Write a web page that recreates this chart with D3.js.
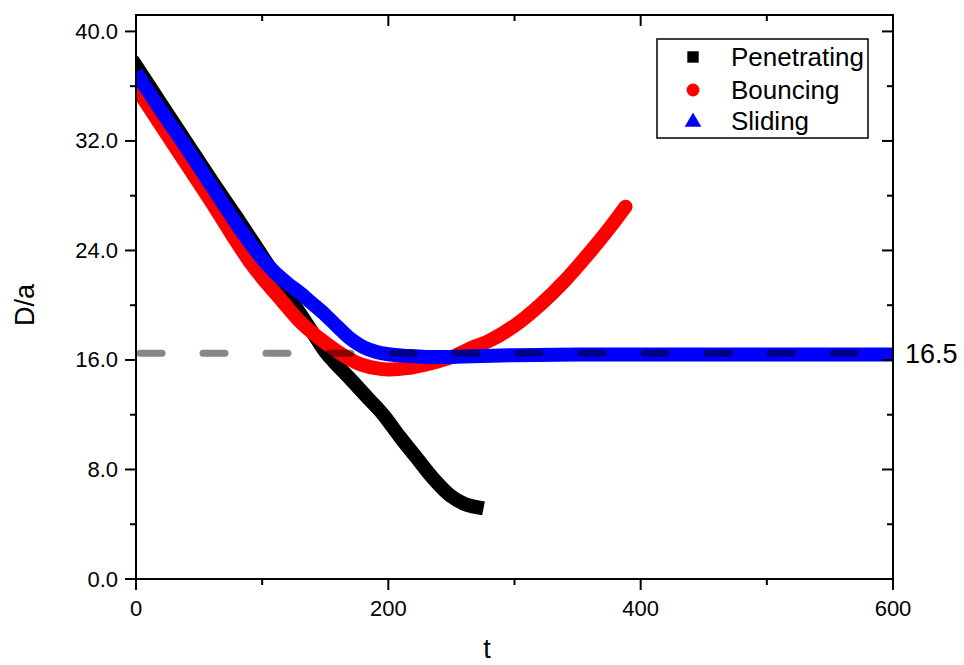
<!DOCTYPE html>
<html>
<head>
<meta charset="utf-8">
<script src="https://cdn.jsdelivr.net/npm/d3@7/dist/d3.min.js"></script>
<style>
  body { margin: 0; background: #fff; }
  text { font-family: Arial, "Liberation Sans", sans-serif; fill: #000; }
</style>
</head>
<body>
<svg id="svg" width="964" height="665"></svg>
<script>
// series data
var penetratingT = [0, 20, 40, 60, 80, 100, 120, 130, 140, 150, 157, 170, 183, 196, 209, 222, 236, 249, 260, 270];
var penetratingD = [37.5, 34.7, 31.9, 29.1, 26.4, 23.6, 20.8, 19.4, 18.0, 16.6, 15.85, 14.6, 13.3, 12.0, 10.4, 8.9, 7.3, 6.1, 5.5, 5.25];

var bouncingT = [0, 20, 40, 60, 75, 90, 100, 114, 130, 145, 160, 175, 190, 200, 215, 233, 250, 265, 280, 300, 320, 340, 360, 375, 388];
var bouncingD = [35.9, 33.1, 30.3, 27.5, 25.3, 23.2, 22.0, 20.5, 18.8, 17.6, 16.6, 15.8, 15.4, 15.3, 15.4, 15.75, 16.2, 16.85, 17.4, 18.5, 20.0, 21.8, 23.9, 25.6, 27.2];

var slidingT = [0, 20, 40, 60, 80, 90, 100, 110, 120, 130, 140, 150, 160, 170, 180, 190, 200, 215, 230, 260, 300, 350, 400, 450, 500, 550, 600];
var slidingD = [37.0, 34.2, 31.5, 28.7, 25.9, 24.6, 23.4, 22.4, 21.6, 20.9, 20.1, 19.3, 18.4, 17.55, 16.95, 16.6, 16.42, 16.3, 16.22, 16.25, 16.35, 16.4, 16.4, 16.4, 16.4, 16.4, 16.4];

var seriesNames = ["Penetrating", "Bouncing", "Sliding"];
var seriesColors = ["#000000", "#ff0000", "#0000ff"];

var refLevel = 16.5;
var xMajor = [0, 200, 400, 600];
var xMinor = [100, 300, 500];
var yMajor = [0, 8, 16, 24, 32, 40];
var yMinor = [4, 12, 20, 28, 36];

var svg = d3.select("svg"),
    width = +svg.attr("width"),
    height = +svg.attr("height");

var pLeft = 136, pRight = 893, pTop = 15, pBottom = 579;

var x = d3.scaleLinear().domain([0, 600]).range([pLeft, pRight]);
var y = d3.scaleLinear().domain([0, 41.2]).range([pBottom, pTop]);

svg.append("rect").attr("width", width).attr("height", height).attr("fill", "#fff");

svg.append("defs").append("clipPath").attr("id", "plotclip")
    .append("rect")
    .attr("x", pLeft).attr("y", pTop)
    .attr("width", pRight - pLeft).attr("height", pBottom - pTop);

var plot = svg.append("g").attr("clip-path", "url(#plotclip)");

var line = d3.line()
    .x(function (d) { return x(d[0]); })
    .y(function (d) { return y(d[1]); })
    .curve(d3.curveCatmullRom.alpha(0.5));

var series = [
    { t: penetratingT, d: penetratingD, cap: "square" },
    { t: bouncingT, d: bouncingD, cap: "round" },
    { t: slidingT, d: slidingD, cap: "butt" }
];

series.forEach(function (s, i) {
    var pts = s.t.map(function (t, j) { return [t, s.d[j]]; });
    plot.append("path")
        .attr("d", line(pts))
        .attr("fill", "none")
        .attr("stroke", seriesColors[i])
        .attr("stroke-width", 14)
        .attr("stroke-linecap", s.cap)
        .attr("stroke-linejoin", "round");
});

// dashed reference line (drawn on top, semi transparent)
plot.append("line")
    .attr("x1", x(0) + 4).attr("x2", x(600))
    .attr("y1", y(refLevel)).attr("y2", y(refLevel))
    .attr("stroke", "#000")
    .attr("stroke-opacity", 0.47)
    .attr("stroke-width", 7)
    .attr("stroke-linecap", "round")
    .attr("stroke-dasharray", "22,41");

svg.append("text")
    .attr("x", 905).attr("y", y(refLevel) + 10)
    .style("font-size", "27px")
    .text("16.5");

// axes
var axisG = svg.append("g").attr("stroke", "#000").attr("stroke-width", 2);

axisG.append("rect")
    .attr("x", pLeft).attr("y", pTop)
    .attr("width", pRight - pLeft).attr("height", pBottom - pTop)
    .attr("fill", "none");

// bottom (outward) and top (inward) ticks
xMajor.forEach(function (v) {
    axisG.append("line").attr("x1", x(v)).attr("x2", x(v)).attr("y1", pBottom).attr("y2", pBottom + 11);
    axisG.append("line").attr("x1", x(v)).attr("x2", x(v)).attr("y1", pTop).attr("y2", pTop + 11);
});
xMinor.forEach(function (v) {
    axisG.append("line").attr("x1", x(v)).attr("x2", x(v)).attr("y1", pBottom).attr("y2", pBottom + 6);
    axisG.append("line").attr("x1", x(v)).attr("x2", x(v)).attr("y1", pTop).attr("y2", pTop + 6);
});
// left (outward) and right (inward) ticks
yMajor.forEach(function (v) {
    axisG.append("line").attr("x1", pLeft - 11).attr("x2", pLeft).attr("y1", y(v)).attr("y2", y(v));
    axisG.append("line").attr("x1", pRight - 11).attr("x2", pRight).attr("y1", y(v)).attr("y2", y(v));
});
yMinor.forEach(function (v) {
    axisG.append("line").attr("x1", pLeft - 6).attr("x2", pLeft).attr("y1", y(v)).attr("y2", y(v));
    axisG.append("line").attr("x1", pRight - 6).attr("x2", pRight).attr("y1", y(v)).attr("y2", y(v));
});

xMajor.forEach(function (v) {
    svg.append("text")
        .attr("x", x(v)).attr("y", 616)
        .attr("text-anchor", "middle")
        .style("font-size", "22px")
        .text(v);
});
yMajor.forEach(function (v) {
    svg.append("text")
        .attr("x", 118).attr("y", y(v))
        .attr("text-anchor", "end")
        .attr("dominant-baseline", "central")
        .style("font-size", "22px")
        .text(v.toFixed(1));
});

svg.append("text")
    .attr("x", 487).attr("y", 658)
    .attr("text-anchor", "middle")
    .style("font-size", "27px")
    .text("t");

svg.append("text")
    .attr("transform", "translate(34," + 305 + ") rotate(-90)")
    .attr("text-anchor", "middle")
    .style("font-size", "27px")
    .text("D/a");

// legend
var lg = svg.append("g");
lg.append("rect")
    .attr("x", 657).attr("y", 39)
    .attr("width", 211).attr("height", 99)
    .attr("fill", "#fff").attr("stroke", "#000").attr("stroke-width", 1.5);

var rowY = [57, 90, 121];
var symbols = [d3.symbolSquare, d3.symbolCircle, d3.symbolTriangle];
var symSize = [130, 130, 120];
seriesNames.forEach(function (name, i) {
    lg.append("path")
        .attr("d", d3.symbol().type(symbols[i]).size(symSize[i])())
        .attr("transform", "translate(693," + (rowY[i] + (i === 2 ? 1 : 0)) + ")")
        .attr("fill", seriesColors[i]);
    lg.append("text")
        .attr("x", 731).attr("y", rowY[i])
        .attr("dominant-baseline", "central")
        .style("font-size", "26px")
        .text(name);
});
</script>
</body>
</html>
